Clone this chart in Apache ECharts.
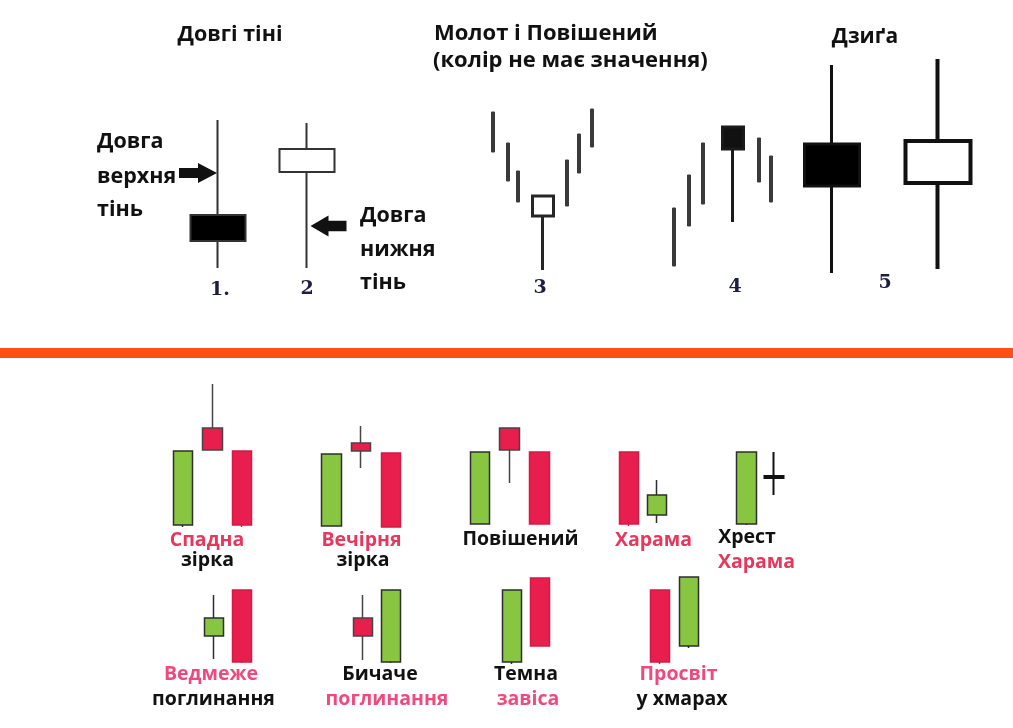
<!DOCTYPE html>
<html>
<head>
<meta charset="utf-8">
<script src="https://cdn.jsdelivr.net/npm/echarts@6/dist/echarts.min.js"></script>
<style>html,body{margin:0;padding:0;background:#fff}#c{width:1013px;height:728px}</style>
</head>
<body>
<div id="c"></div>
<script>
// ---------- DATA: [x, open, close, low, high] ----------
// top section (price units)
const longShadows   = [[1, 75, 49, 22, 170], [2, 118, 141, 22, 167]];
const hammerTrend   = [[1.3,138,178,138,178],[2.8,109,147,109,147],[3.8,88,119,88,119],[8.7,84,130,84,130],[9.9,117,156,117,156],[11.2,143,181,143,181]];
const hammerCandle  = [[6.3, 74, 94, 20, 94]];
const hangingTrend  = [[1.4,24,82,24,82],[2.9,64,115,64,115],[4.3,86,147,86,147],[9.9,108,152,108,152],[11.1,88,134,88,134]];
const hangingCandle = [[7.3, 163, 141, 68, 163]];
const spinningBlack = [[1, 146, 104, 17, 225]];
const spinningWhite = [[2, 107, 149, 21, 231]];
// bottom section
const shootingStar     = [[1,5,79,3,79],[2,102,80,80,146],[3,79,5,3,79]];
const eveningStar      = [[1,4,76,4,76],[2,87,79,62,104],[3,77,3,3,77]];
const hangingPattern   = [[1,6,78,6,78],[2,102,80,47,102],[3,78,6,6,78]];
const harami           = [[1,78,6,4,78],[2,15,35,7,50]];
const haramiCross      = [[1,6,78,5,78],[2,52,54,35,78]];
const bearishEngulfing = [[1,34,52,11,75],[2,80,8,7,80]];
const bullishEngulfing = [[1,52,34,10,75],[2,8,80,7,80]];
const darkCloud        = [[1,8,80,6,80],[2,92,24,24,92]];
const piercing         = [[1,80,8,6,80],[2,24,93,22,93]];

// candle number labels and captions
const candleNumbers = ['1.', '2', '3', '4', '5'];
const topTitles = ['Довгі тіні', 'Молот і Повішений', '(колір не має значення)', 'Дзиґа'];
const upperShadowText = ['Довга', 'верхня', 'тінь'];
const lowerShadowText = ['Довга', 'нижня', 'тінь'];
const patternCaptions = [
  ['Спадна', 'зірка'], ['Вечірня', 'зірка'], ['Повішений'], ['Харама'], ['Хрест', 'Харама'],
  ['Ведмеже', 'поглинання'], ['Бичаче', 'поглинання'], ['Темна', 'завіса'], ['Просвіт', 'у хмарах']
];

// ---------- LAYOUT / STYLE ----------
const GREEN = '#88C540', RED = '#E81E4C', EDGE = '#2e2e2e';
const PINK1 = '#E8375D', PINK2 = '#EE4A7E';
const grids = [
  {left:173.5, width:178, top:50, height:240, x:[0.5,2.5], y:[0,240]},
  {left:480, width:130, top:50, height:240, x:[0,13], y:[0,240]},
  {left:660, width:130, top:50, height:240, x:[0,13], y:[0,240]},
  {left:779, width:212, top:50, height:240, x:[0.5,2.5], y:[0,240]},
  {left:168.25, width:88.5, top:380, height:150, x:[0.5,3.5], y:[0,150]},
  {left:316.6, width:89.25, top:380, height:150, x:[0.5,3.5], y:[0,150]},
  {left:465.1, width:89.25, top:380, height:150, x:[0.5,3.5], y:[0,150]},
  {left:615, width:56, top:380, height:150, x:[0.5,2.5], y:[0,150]},
  {left:732.75, width:55, top:380, height:150, x:[0.5,2.5], y:[0,150]},
  {left:200, width:56, top:570, height:100, x:[0.5,2.5], y:[0,100]},
  {left:349, width:56, top:570, height:100, x:[0.5,2.5], y:[0,100]},
  {left:498, width:56, top:570, height:100, x:[0.5,2.5], y:[0,100]},
  {left:645.5, width:58, top:570, height:100, x:[0.5,2.5], y:[0,100]}
];

const arrowRight = 'path://M0,5 L19,5 L19,0 L38,10 L19,20 L19,15 L0,15 Z';
const arrowLeft  = 'path://M38,5 L19,5 L19,0 L0,10 L19,20 L19,15 L38,15 Z';

const series = [];
function cs(gi, data, barWidth, itemStyle, extra) {
  series.push(Object.assign({
    type: 'candlestick', xAxisIndex: gi, yAxisIndex: gi, data: data,
    barWidth: barWidth, itemStyle: itemStyle, silent: true
  }, extra || {}));
}
const stickStyle = {color:'#3a3a3a', color0:'#3a3a3a', borderColor:'#3a3a3a', borderColor0:'#3a3a3a', borderWidth:1};

cs(0, longShadows, 55, {color:'#fff', color0:'#000', borderColor:'#333', borderColor0:'#333', borderWidth:2}, {
  markPoint: {
    silent: true, label: {show:false}, itemStyle: {color:'#111'},
    data: [
      {coord:[1, 117], symbol: arrowRight, symbolSize:[38,20], symbolOffset:[-20,0]},
      {coord:[2, 64], symbol: arrowLeft, symbolSize:[36,21], symbolOffset:[21.5,0]}
    ]
  }
});
cs(1, hammerTrend, 4, stickStyle);
cs(1, hammerCandle, 21, {color:'#fff', color0:'#fff', borderColor:'#262626', borderColor0:'#262626', borderWidth:3});
cs(2, hangingTrend, 4, stickStyle);
cs(2, hangingCandle, 21, {color:'#111', color0:'#111', borderColor:'#1a1a1a', borderColor0:'#1a1a1a', borderWidth:3});
cs(3, spinningBlack, 56, {color:'#000', color0:'#000', borderColor:'#111', borderColor0:'#111', borderWidth:3});
cs(3, spinningWhite, 66, {color:'#fff', color0:'#fff', borderColor:'#111', borderColor0:'#111', borderWidth:4});

const bottomStyle = {color:GREEN, color0:RED, borderColor:EDGE, borderColor0:'#D21A47', borderWidth:1.5};
const bottomSets = [shootingStar, eveningStar, hangingPattern, harami, haramiCross, bearishEngulfing, bullishEngulfing, darkCloud, piercing];
// item-level style tweaks: [set index, item index, style]
const itemTweaks = [
  [0, 1, {borderColor0:'#454545'}],
  [1, 1, {borderColor0:'#454545'}],
  [2, 1, {borderColor0:'#454545'}],
  [4, 1, {color:'#111', borderColor:'#111', borderWidth:2}],
  [6, 0, {borderColor0:'#454545'}]
];
bottomSets.forEach(function (set, si) {
  const data = set.map(function (row, ri) {
    const t = itemTweaks.find(function (k) { return k[0] === si && k[1] === ri; });
    return t ? {value: row, itemStyle: t[2]} : row;
  });
  cs(4 + si, data, 20, bottomStyle);
});

// ---------- TEXT ----------
const F = '"Open Sans", "Noto Sans", sans-serif';
const texts = [];
function txt(x, y, s, size, fill, align, weight) {
  texts.push({
    type: 'text', x: x, y: y, silent: true,
    style: {text: s, fill: fill, font: (weight || 'bold') + ' ' + size + 'px ' + F,
      align: align || 'center', verticalAlign: 'middle',
      textAlign: align || 'center', textVerticalAlign: 'middle'}
  });
}
txt(230, 35, topTitles[0], 21.5, '#111');
txt(434, 34, topTitles[1], 22, '#111', 'left');
txt(433, 61, topTitles[2], 22, '#111', 'left');
txt(865, 37, topTitles[3], 21, '#111');
[142, 177, 210].forEach(function (y, i) { txt(97, y, upperShadowText[i], 21.5, '#111', 'left'); });
[216, 250, 283].forEach(function (y, i) { txt(360, y, lowerShadowText[i], 21.5, '#111', 'left'); });
const numPos = [[220, 290], [307, 289], [540, 288], [735, 287], [885, 283]];
numPos.forEach(function (p, i) {
  texts.push({type:'text', x:p[0], y:p[1], silent:true,
    style:{text:candleNumbers[i], fill:'#1e1e40', font:'bold 19px "DejaVu Serif", serif',
      align:'center', verticalAlign:'middle', textAlign:'center', textVerticalAlign:'middle'}});
});
const capPos = [
  [[207,540,PINK1],[207.5,560,'#111']],
  [[361.5,540,PINK1],[363,560,'#111']],
  [[520.5,539,'#111']],
  [[653.5,540,PINK1]],
  [[747,537,'#111'],[756.5,562,PINK1]],
  [[211,674,PINK2],[213.5,699,'#111']],
  [[380,674,'#111'],[387,699,PINK2]],
  [[526,674,'#111'],[528,699,PINK2]],
  [[678.5,674,PINK2],[682,699,'#111']]
];
patternCaptions.forEach(function (lines, i) {
  lines.forEach(function (s, j) { const p = capPos[i][j]; txt(p[0], p[1], s, 19.5, p[2]); });
});

const option = {
  animation: false,
  backgroundColor: '#ffffff',
  grid: grids.map(function (g) { return {left:g.left, width:g.width, top:g.top, height:g.height, show:false, containLabel:false}; }),
  xAxis: grids.map(function (g, i) { return {type:'value', gridIndex:i, min:g.x[0], max:g.x[1], show:false}; }),
  yAxis: grids.map(function (g, i) { return {type:'value', gridIndex:i, min:g.y[0], max:g.y[1], show:false}; }),
  series: series,
  graphic: [{type:'rect', shape:{x:0, y:348, width:1013, height:10}, style:{fill:'#FF5014'}, silent:true}].concat(texts)
};
const chart = echarts.init(document.getElementById('c'));
chart.setOption(option);
</script>
</body>
</html>
